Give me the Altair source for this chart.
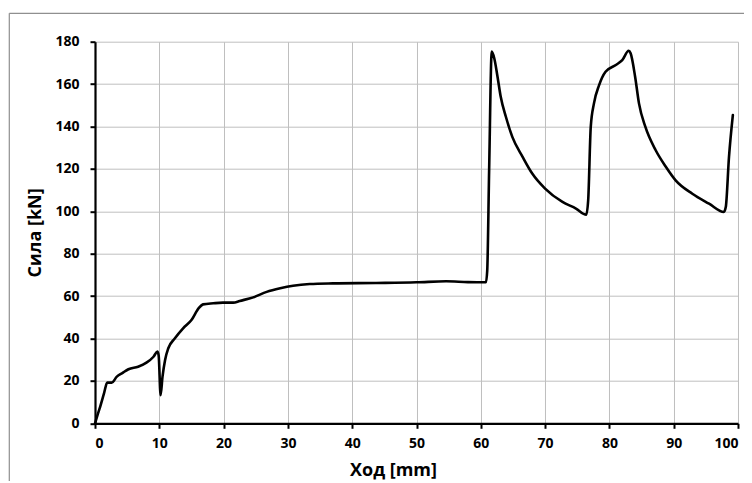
import altair as alt
import pandas as pd

# Data
stroke_mm = [0, 0.4, 0.8, 1.4, 1.9, 2.6, 3.4, 4.3, 5.2, 6.7, 8.0, 9.1, 9.7, 9.9,
             10.2, 10.5, 10.9, 11.4, 12.4, 13.7, 15.0, 16.1, 16.8, 18.4, 19.9,
             21.5, 22.5, 24.6, 26.7, 28.8, 30.8, 33.4, 37, 43.7, 50, 54.6, 58,
             60.8, 61.0, 61.3, 61.7, 62.1, 62.6, 63.1, 63.9, 64.9, 66.5, 68.0,
             70, 72.7, 74.8, 76.4, 76.7, 77.1, 77.6, 78.4, 79.4, 81, 82, 83,
             83.3, 84, 84.6, 85.6, 87.2, 88.8, 90.3, 92.9, 95.5, 97.8, 98.1,
             98.6, 99.2]
force_kn = [0, 4, 7.8, 14.1, 19.2, 19.2, 22, 23.8, 25.5, 26.7, 28.6, 31.4, 33.8, 32,
            13.3, 22, 29.9, 35.4, 40, 44.8, 48.7, 54.2, 56.1, 56.6, 56.9,
            56.9, 57.7, 59.4, 62, 63.7, 64.9, 65.7, 66, 66.2, 66.5, 67.0, 66.6,
            66.5, 72, 120, 175.3, 172.1, 163.5, 154, 144.6, 135.1, 125.7, 117.8,
            110.7, 104.4, 101.3, 98.4, 105.2, 139.8, 150.9, 159.5, 165.8, 169, 171.3, 175.7,
            174.5, 163.5, 150.9, 139.8, 128.8, 120.9, 114.6, 108.3, 103.6, 99.7, 102,
            125.7, 145.4]

x_ticks = [0, 10, 20, 30, 40, 50, 60, 70, 80, 90, 100]
y_ticks = [0, 20, 40, 60, 80, 100, 120, 140, 160, 180]

df = pd.DataFrame({"x": stroke_mm, "y": force_kn})

W, H = 643, 381.6
FONT = "Open Sans"

line = alt.Chart(df).mark_line(
    color="black", strokeWidth=2.6, interpolate="monotone", strokeJoin="round", strokeCap="round"
).encode(
    x=alt.X("x:Q", title="Ход [mm]",
            scale=alt.Scale(domain=[0, 100], nice=False),
            axis=alt.Axis(values=x_ticks, titleX=298, titleY=52, titleAlign="center",
                          titleBaseline="alphabetic", labelPadding=8)),
    y=alt.Y("y:Q", title="Сила [kN]",
            scale=alt.Scale(domain=[0, 180], nice=False),
            axis=alt.Axis(values=y_ticks, titleX=-60, titleY=H / 2, titleAngle=270,
                          titleAlign="center", titleBaseline="middle", labelPadding=11)),
)

frame_df = pd.DataFrame({"a": [0]})
frame_left = alt.Chart(frame_df).mark_rule(color="#8f8f8f", strokeWidth=1.2).encode(
    x=alt.value(-85.7), y=alt.value(-28.4), y2=alt.value(460)
)
frame_top = alt.Chart(frame_df).mark_rule(color="#8f8f8f", strokeWidth=1.2).encode(
    x=alt.value(-85.7), x2=alt.value(700), y=alt.value(-28.4)
)

chart = alt.layer(frame_left, frame_top, line).properties(
    width=W, height=H,
    background="white",
    autosize=alt.AutoSizeParams(type="none"),
    padding={"left": 87, "top": 33.7, "right": 6, "bottom": 58},
).configure_view(stroke=None).configure_axis(
    labelFont=FONT, labelFontWeight="bold", labelFontSize=14, labelColor="black",
    titleFont=FONT, titleFontWeight="bold", titleFontSize=18, titleColor="black",
    domainColor="black", domainWidth=2.2, tickColor="black", tickWidth=2, tickSize=5,
    gridColor="#bfbfbf", gridWidth=1, gridOpacity=1,
)

chart.save("out.html", embed_options={"renderer": "svg", "actions": False})
